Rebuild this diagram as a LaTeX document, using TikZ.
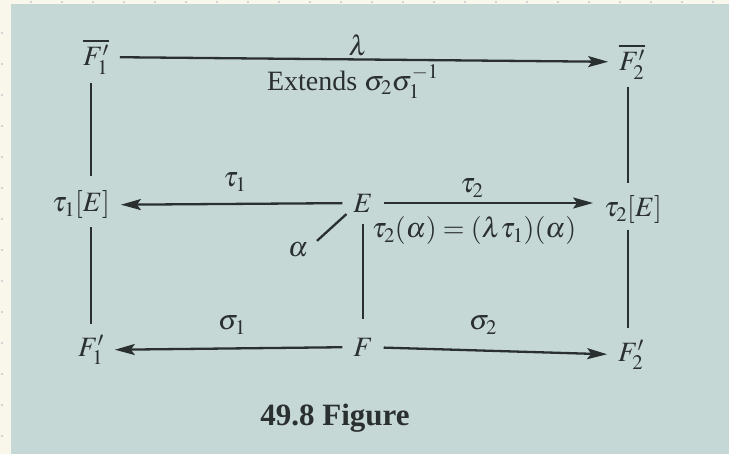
\documentclass[tikz,border=0pt]{standalone}
\usepackage{mathptmx}
\usepackage{fontspec}
\setmainfont{Liberation Serif}
\usetikzlibrary{arrows.meta}
\definecolor{page}{HTML}{C6D8D6}
\definecolor{cream}{HTML}{F9F6EB}
\definecolor{ink}{HTML}{2A2F2F}
\definecolor{dotc}{HTML}{C4C8CE}
\begin{document}
\begin{tikzpicture}[x=1pt,y=-1pt,
  lbl/.style={inner sep=0pt, outer sep=0pt, text=ink, font=\fontsize{28}{34}\selectfont},
  ln/.style={draw=ink, line width=2.3pt},
  gaps/.style 2 args={shorten <=#1pt, shorten >=#2pt},
  arr/.style={ln, -{Stealth[length=20pt,width=11pt,inset=4pt]}, shorten <=11pt, shorten >=11pt}]
\fill[cream] (0,0) rectangle (729,454);
\useasboundingbox (0,0) rectangle (729,454);
\fill[page] (11,4) rectangle (729,454);
\foreach \x in {31,62,...,720} \fill[dotc] (\x,2) circle (1.2);
\foreach \y in {33,64,...,450} \fill[dotc] (2,\y) circle (1.2);
% columns
\coordinate (cL) at (91,0);
\coordinate (cM) at (363,0);
\coordinate (cR) at (628,0);
% nodes
\node[lbl] (F1b) at (96,57) {$\overline{F_1'}$};
\node[lbl] (F2b) at (632,62) {$\overline{F_2'}$};
\node[lbl] (lam) at (358,45) {$\lambda$};
\node[lbl, anchor=west] (ext) at (267,82) {Extends $\sigma_2\sigma_1^{-1}$};
\node[lbl] (t1E) at (81,205) {$\tau_1[E]$};
\node[lbl] (E) at (363,203) {$E$};
\node[lbl] (t2E) at (633,210) {$\tau_2[E]$};
\node[lbl] (t1) at (235,182) {$\tau_1$};
\node[lbl] (t2) at (472,188) {$\tau_2$};
\node[lbl] (eq) at (474,231) {$\tau_2(\alpha)=(\lambda\tau_1)(\alpha)$};
\node[lbl] (al) at (298,250) {$\alpha$};
\node[lbl] (F1) at (91,350) {$F_1'$};
\node[lbl] (F) at (363,347) {$F$};
\node[lbl] (F2) at (631,355) {$F_2'$};
\node[lbl] (s1) at (232,325) {$\sigma_1$};
\node[lbl] (s2) at (483,325) {$\sigma_2$};
\node[lbl, font=\fontsize{31}{36}\selectfont\bfseries] (cap) at (335,418) {49.8 Figure};
% arrows
\draw[arr] (F1b) -- (F2b);
\draw[arr] (E) -- (t1E);
\draw[arr] (E.east) -- (E.east -| t2E.west);
\draw[arr] (F) -- (F1);
\draw[arr] (F) -- (F2);
% plain lines
\draw[ln, gaps={8}{15}] (F1b.south -| cL) -- (t1E.north -| cL);
\draw[ln, gaps={8}{11}] (t1E.south -| cL) -- (F1.north -| cL);
\draw[ln, gaps={7}{13}] (F2b.south -| cR) -- (t2E.north -| cR);
\draw[ln, gaps={6}{12}] (t2E.south -| cR) -- (F2.north -| cR);
\draw[ln, gaps={12}{19}] (E.south -| cM) -- (F.north -| cM);
\draw[ln] ([shift={(9,-2)}]al.north east) -- ([shift={(-7,2)}]E.south west);
\end{tikzpicture}
\end{document}
